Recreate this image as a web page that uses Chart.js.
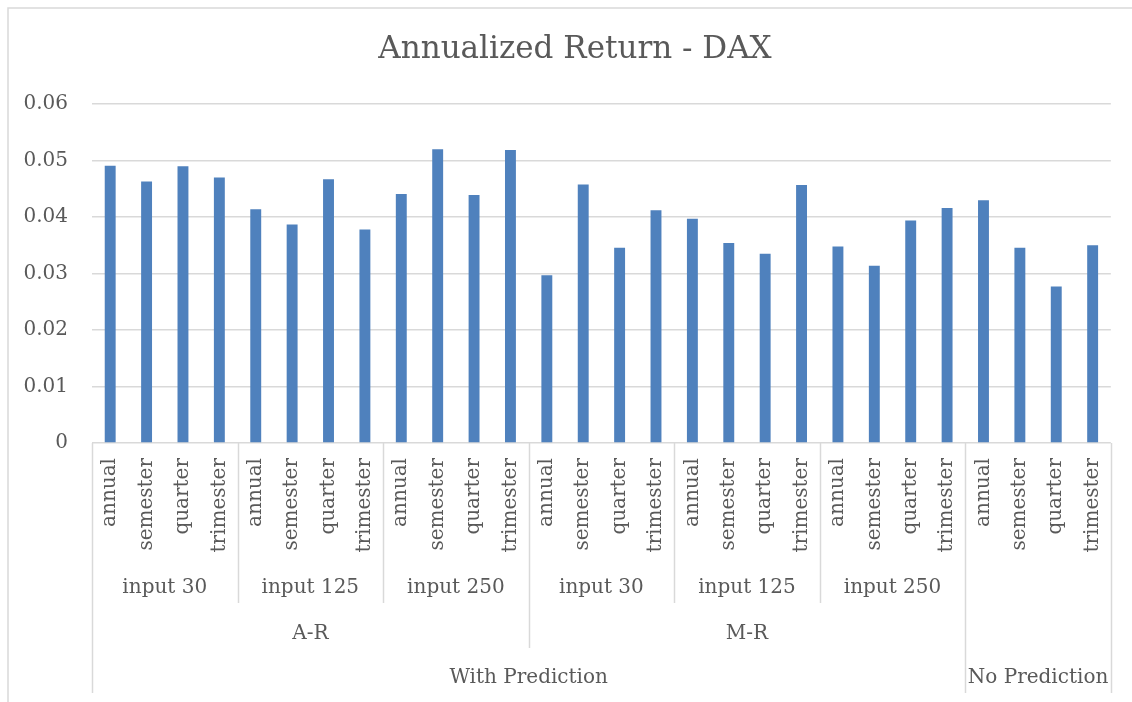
<!DOCTYPE html>
<html>
<head>
<meta charset="utf-8">
<title>Annualized Return - DAX</title>
<script src="https://cdn.jsdelivr.net/npm/chart.js@4.4.1/dist/chart.umd.min.js"></script>
<style>
  html, body { margin: 0; padding: 0; background: #fff; }
  canvas { display: block; }
</style>
</head>
<body>
<canvas id="daxChart" width="1132" height="702"></canvas>
<script>
/* ======================
   DATA
====================== */

// 7 blocks of 4 periods
const categories = [
  "annual", "semester", "quarter", "trimester",
  "annual", "semester", "quarter", "trimester",
  "annual", "semester", "quarter", "trimester",
  "annual", "semester", "quarter", "trimester",
  "annual", "semester", "quarter", "trimester",
  "annual", "semester", "quarter", "trimester",
  "annual", "semester", "quarter", "trimester"
];

const returns = [
  0.0491, 0.0463, 0.0490, 0.0470,
  0.0414, 0.0387, 0.0467, 0.0378,
  0.0441, 0.0520, 0.0439, 0.0519,
  0.0297, 0.0458, 0.0346, 0.0412,
  0.0397, 0.0354, 0.0335, 0.0457,
  0.0348, 0.0314, 0.0394, 0.0416,
  0.0430, 0.0346, 0.0277, 0.0350
];

// group levels: label + how many bars it covers
const inputGroups = [
  { label: "input 30", span: 4 },
  { label: "input 125", span: 4 },
  { label: "input 250", span: 4 },
  { label: "input 30", span: 4 },
  { label: "input 125", span: 4 },
  { label: "input 250", span: 4 },
  { label: "", span: 4 }
];
const modelGroups = [
  { label: "A-R", span: 12 },
  { label: "M-R", span: 12 },
  { label: "", span: 4 }
];
const predictionGroups = [
  { label: "With Prediction", span: 24 },
  { label: "No Prediction", span: 4 }
];

const textColor = "#595959";
const lineColor = "#d9d9d9";
const serif = "'DejaVu Serif', serif";


/* ======================
   MULTI-LEVEL AXIS
====================== */

const groupAxis = {
  id: "groupAxis",
  afterLayout(chart) {
    // Excel centres the title a bit right of the canvas middle
    chart.titleBlock.left += 14;
    chart.titleBlock.right += 14;
  },
  beforeDraw(chart) {
    // chart area frame
    const c = chart.ctx;
    c.save();
    c.strokeStyle = lineColor;
    c.lineWidth = 1.5;
    c.strokeRect(8, 8, chart.width + 20, chart.height + 20);
    c.restore();
  },
  afterDraw(chart) {
    const c = chart.ctx;
    const x = chart.scales.x;
    const area = chart.chartArea;
    const n = categories.length;
    const edge = i => {
      if (i <= 0) return area.left;
      if (i >= n) return area.right;
      return (x.getPixelForValue(i - 1) + x.getPixelForValue(i)) / 2;
    };

    const levels = [
      { groups: inputGroups, textY: 145, lineEnd: 160 },
      { groups: modelGroups, textY: 191, lineEnd: 205 },
      { groups: predictionGroups, textY: 235, lineEnd: 250 }
    ];

    c.save();
    c.font = "20px " + serif;
    c.fillStyle = textColor;
    c.textAlign = "center";
    c.textBaseline = "middle";
    c.strokeStyle = lineColor;
    c.lineWidth = 1.5;

    // longest separator wins at each boundary
    const depth = {};
    levels.forEach(lv => {
      let start = 0;
      depth[0] = Math.max(depth[0] || 0, lv.lineEnd);
      lv.groups.forEach(g => {
        const end = start + g.span;
        depth[end] = Math.max(depth[end] || 0, lv.lineEnd);
        if (g.label) {
          c.fillText(g.label, (edge(start) + edge(end)) / 2, area.bottom + lv.textY);
        }
        start = end;
      });
    });

    Object.keys(depth).forEach(k => {
      const px = Math.round(edge(+k)) + 0.5;
      c.beginPath();
      c.moveTo(px, area.bottom);
      c.lineTo(px, area.bottom + depth[k]);
      c.stroke();
    });
    c.restore();
  }
};


/* ======================
   BAR CHART
====================== */

Chart.defaults.font.family = serif;
Chart.defaults.font.size = 20;
Chart.defaults.color = textColor;

const ctx = document.getElementById("daxChart").getContext("2d");

new Chart(ctx, {
  type: "bar",
  data: {
    labels: categories,
    datasets: [{
      label: "Annualized Return",
      data: returns,
      backgroundColor: "#4f81bd",
      borderWidth: 0,
      barPercentage: 0.3,
      categoryPercentage: 1
    }]
  },
  options: {
    responsive: false,
    animation: false,
    layout: {
      padding: { left: 10, right: 20, top: 0, bottom: 0 }
    },
    plugins: {
      legend: { display: false },
      tooltip: { enabled: false },
      title: {
        display: true,
        text: "Annualized Return - DAX",
        color: textColor,
        font: { family: serif, size: 31, weight: "normal" },
        padding: { top: 31, bottom: 36 }
      }
    },
    scales: {
      x: {
        grid: { display: false, drawTicks: false },
        border: { display: false },
        ticks: {
          autoSkip: false,
          minRotation: 90,
          maxRotation: 90,
          padding: 15,
          color: textColor,
          font: { size: 20 }
        },
        afterFit(scale) {
          scale.height = 259;
        }
      },
      y: {
        min: 0,
        max: 0.06,
        grid: { color: lineColor, lineWidth: 1.5, drawTicks: false },
        border: { display: false },
        ticks: {
          stepSize: 0.01,
          padding: 24,
          color: textColor,
          font: { size: 20 },
          callback: v => (v === 0 ? "0" : v.toFixed(2))
        },
        afterFit(scale) {
          scale.width = 82;
        }
      }
    }
  },
  plugins: [groupAxis]
});
</script>
</body>
</html>
